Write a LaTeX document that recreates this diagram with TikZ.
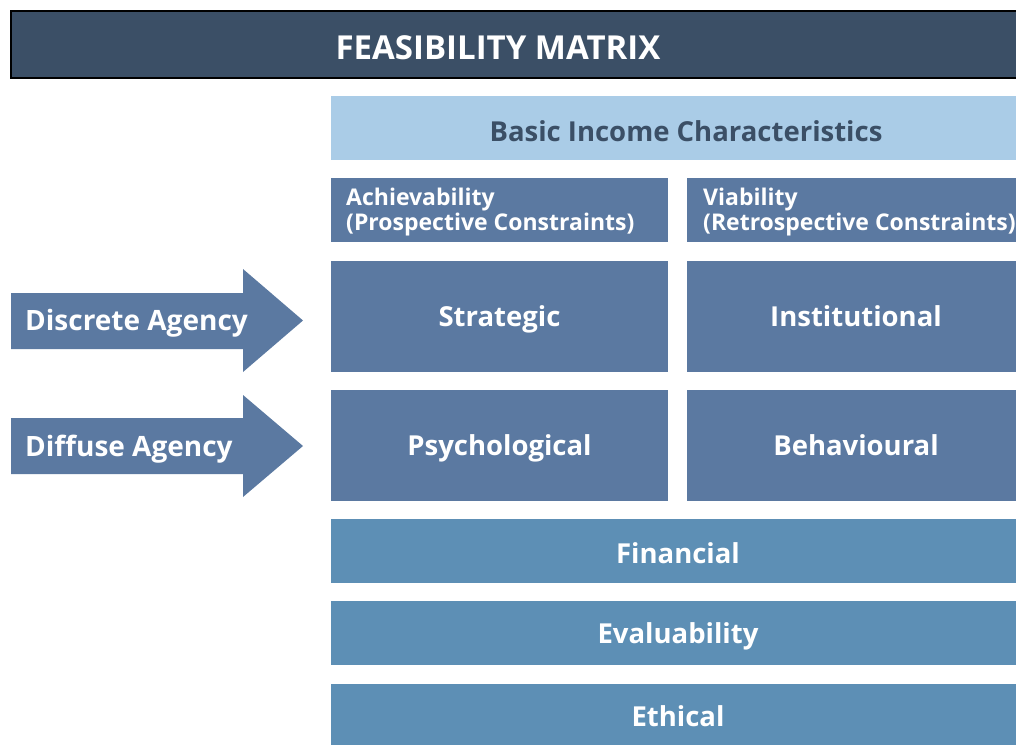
\documentclass[tikz,border=0pt]{standalone}
\usepackage{fontspec}
\setmainfont{Open Sans}
\usetikzlibrary{calc}
\definecolor{headblue}{HTML}{3B4F66}
\definecolor{lightblue}{HTML}{AACCE7}
\definecolor{midblue}{HTML}{5B79A1}
\definecolor{lowblue}{HTML}{5D8FB5}
\newcommand{\fsz}[1]{\fontsize{#1}{#1}\selectfont\bfseries}

\begin{document}
\begin{tikzpicture}[x=1pt, y=-1pt,
    cap/.style={font=\fsz{#1}, text height={0.72*#1pt}, text depth=0pt},
    cell/.style={fill=#1, text=white, inner sep=0pt},
    cell/.default=midblue,
    label/.style={text=white, inner sep=0pt, anchor=base west, font=\fsz{23}}]
  \useasboundingbox (0,0) rectangle (1016,744);

  % header
  \draw [fill=headblue, line width=2pt] (11,11) rectangle (1040,78);
  \node [text=white, inner sep=0pt, cap=33, name=title] at (498,47.5) {FEASIBILITY MATRIX};

  \node [cell=lightblue, text=headblue, minimum width=710, minimum height=64, cap=27.5, text height=27.8pt, name=basic]
    at (686,128) {Basic Income Characteristics};

  % column heads
  \node [cell, minimum width=337, minimum height=64, name=achv] at (499.5,210) {};
  \node [cell, minimum width=338, minimum height=64, name=viab] at (856,210) {};
  \node [label, name=achvA] at (346,205) {Achievability};
  \node [label, name=achvB] at (346,230) {(Prospective Constraints)};
  \node [label, name=viabA] at (703,205) {Viability};
  \node [label, name=viabB] at (703,230) {(Retrospective Constraints)};

  % matrix
  \node [cell, minimum width=337, minimum height=111, cap=27.5, name=strat] at (499.5,316.5) {Strategic};
  \node [cell, minimum width=338, minimum height=111, cap=27.5, name=inst] at (856,316.5) {Institutional};
  \node [cell, minimum width=337, minimum height=111, cap=27.5, name=psych] at (499.5,445.5) {Psychological};
  \node [cell, minimum width=338, minimum height=111, cap=27.5, name=behav] at (856,445.5) {Behavioural};

  % rows below
  \node [cell=lowblue, minimum width=694, minimum height=64, cap=27.5, text height=25.8pt, name=fin] at (678,551) {Financial};
  \node [cell=lowblue, minimum width=694, minimum height=64, cap=27.5, text height=21.8pt, name=eval] at (678,633) {Evaluability};
  \node [cell=lowblue, minimum width=694, minimum height=64, cap=27.5, text height=21.8pt, name=eth] at (678,716) {Ethical};

  % agency arrows
  \fill [midblue] (11,293) -- (243,293) -- (243,269) -- (303,320.5) -- (243,372) -- (243,349) -- (11,349) -- cycle;
  \fill [midblue] (11,418) -- (243,418) -- (243,395) -- (303,446) -- (243,497) -- (243,474) -- (11,474) -- cycle;
  \node [text=white, inner sep=0pt, anchor=west, cap=28, name=disc] at (25,320) {Discrete Agency};
  \node [text=white, inner sep=0pt, anchor=west, cap=28, name=diff] at (25,446) {Diffuse Agency};
\end{tikzpicture}
\end{document}
